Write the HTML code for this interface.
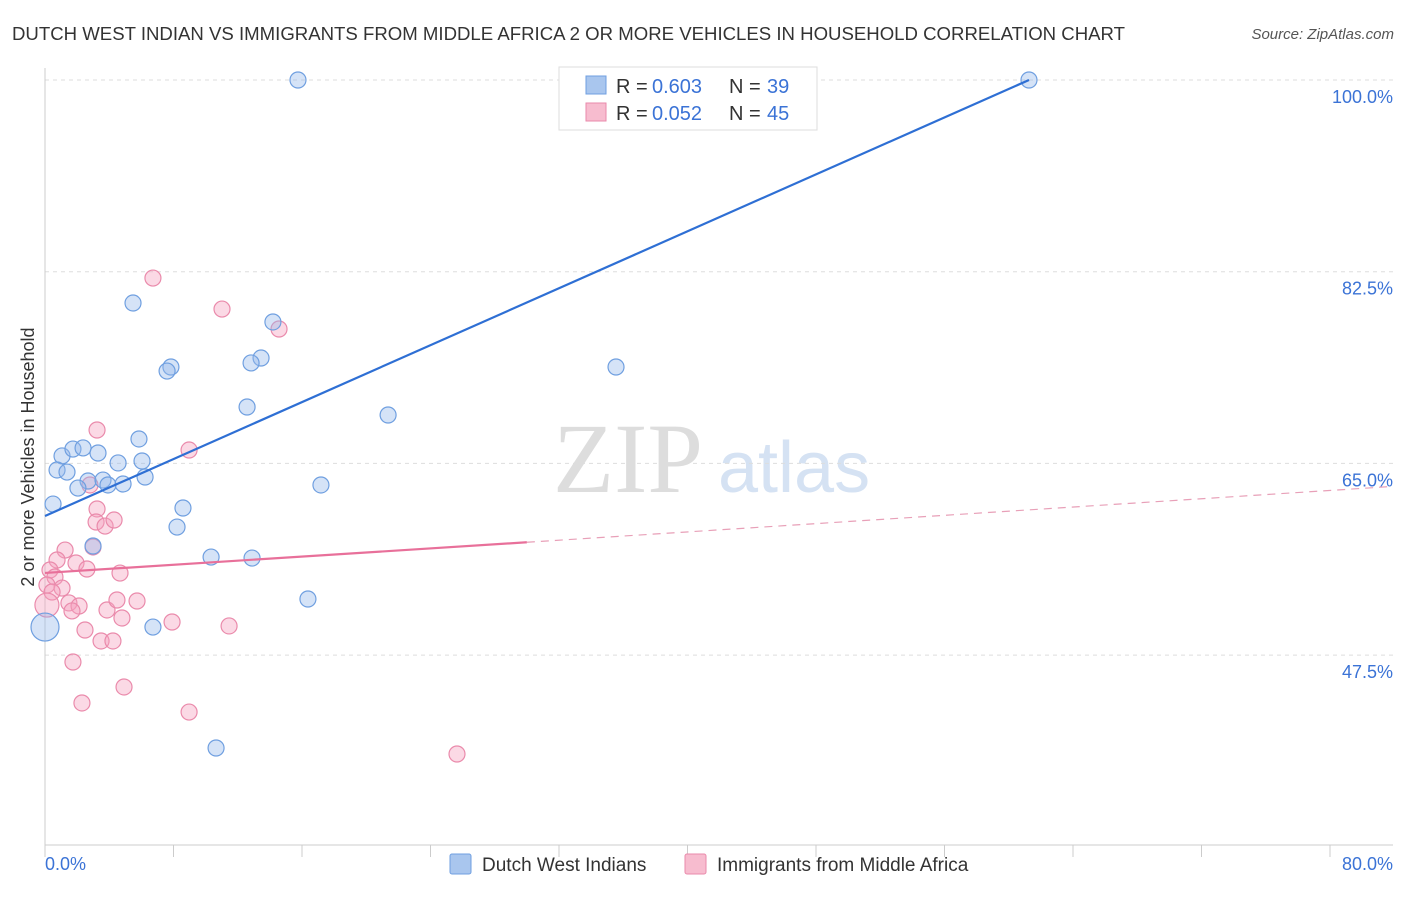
<!DOCTYPE html>
<html><head><meta charset="utf-8"><style>
body{margin:0;background:#fff;font-family:"Liberation Sans",sans-serif}
svg text{font-family:"Liberation Sans",sans-serif}
</style></head><body>
<svg id="chart" width="1406" height="892" xmlns="http://www.w3.org/2000/svg">
<text x="12" y="40" font-size="18" fill="#333" textLength="1113" lengthAdjust="spacingAndGlyphs">DUTCH WEST INDIAN VS IMMIGRANTS FROM MIDDLE AFRICA 2 OR MORE VEHICLES IN HOUSEHOLD CORRELATION CHART</text>
<text x="1394" y="39" font-size="15" fill="#555" font-style="italic" text-anchor="end">Source: ZipAtlas.com</text>
<text x="553" y="492" font-size="100" fill="#ddd" font-family="Liberation Serif" style="font-family:'Liberation Serif',serif">ZIP</text>
<text x="718" y="492" font-size="72" fill="#d5e2f3">atlas</text>
<g id="grid"></g>
<g id="marks"></g>
<text transform="translate(34,457) rotate(-90)" font-size="18" fill="#333" text-anchor="middle">2 or more Vehicles in Household</text>
<g>
<rect x="559" y="67" width="258" height="63" fill="#fff" stroke="#ddd"/>
<rect x="586" y="76" width="20" height="18" fill="#a9c6ee" stroke="#6f9fe0"/>
<rect x="586" y="103" width="20" height="18" fill="#f7bccf" stroke="#ea8aab"/>
<text x="616" y="93" font-size="20" fill="#333">R =</text>
<text x="652" y="93" font-size="20" fill="#3b73d6">0.603</text>
<text x="729" y="93" font-size="20" fill="#333">N =</text>
<text x="767" y="93" font-size="20" fill="#3b73d6">39</text>
<text x="616" y="120" font-size="20" fill="#333">R =</text>
<text x="652" y="120" font-size="20" fill="#3b73d6">0.052</text>
<text x="729" y="120" font-size="20" fill="#333">N =</text>
<text x="767" y="120" font-size="20" fill="#3b73d6">45</text>
</g>
<g>
<rect x="450" y="854" width="21" height="20" fill="#a9c6ee" stroke="#6f9fe0" rx="2"/>
<text x="482" y="871" font-size="19" fill="#333">Dutch West Indians</text>
<rect x="685" y="854" width="21" height="20" fill="#f7bccf" stroke="#ea8aab" rx="2"/>
<text x="717" y="871" font-size="19" fill="#333">Immigrants from Middle Africa</text>
</g>
</svg>
<script>
const yTicks=[100,82.5,65,47.5];
const yTickLabels=["100.0%","82.5%","65.0%","47.5%"];
const xTickLabels=["0.0%","80.0%"];
const blueX=[15.75,34.55,61.26,5.48,14.19,7.84,7.60,13.45,12.83,35.55,12.58,21.36,5.85,1.06,1.74,2.37,3.30,4.55,6.04,0.75,1.37,6.23,2.68,2.05,3.61,3.92,4.86,17.18,0.50,8.59,8.22,2.99,10.34,12.89,16.37,6.72,0,10.65];
const blueY=[100,100,100,79.64,77.91,73.8,73.43,74.62,74.17,73.8,70.15,69.42,67.23,65.68,66.31,66.41,65.95,65.04,65.22,64.40,64.21,63.76,63.39,62.75,63.48,63.03,63.12,63.03,61.29,60.93,59.19,57.46,56.45,56.36,52.62,50.06,50.06,39.02];
const blueR=[8,8,8,8,8,8,8,8,8,8,8,8,8,8,8,8,8,8,8,8,8,8,8,8,8,8,8,8,8,8,8,8,8,8,8,8,14,8];
const pinkX=[6.72,11.02,14.57,8.97,3.24,2.80,3.24,3.18,3.74,4.30,1.25,2.99,0.75,1.93,2.61,4.67,0.31,0.62,0.12,1.06,0.44,3.86,1.49,2.12,1.68,4.48,5.73,4.79,7.91,11.46,2.49,0.12,3.49,4.23,1.74,4.92,2.30,8.97,25.65];
const pinkY=[81.92,79.09,77.27,66.22,68.05,63.03,60.84,59.65,59.28,59.83,57.09,57.37,56.18,55.91,55.36,54.99,55.27,54.63,53.90,53.62,53.26,51.62,52.26,51.98,51.53,52.53,52.44,50.89,50.52,50.16,49.79,52.07,48.79,48.79,46.87,44.59,43.13,42.30,38.47];
const pinkR=[8,8,8,8,8,8,8,8,8,8,8,8,8,8,8,8,8,8,8,8,8,8,8,8,8,8,8,8,8,8,8,12,8,8,8,8,8,8,8];
const blueLine=[0,60.2,61.26,100];
const pinkLine=[0,55.0,30.0,57.8,83.9,62.9];
const X=v=>45+v*1285/80, Y=v=>80+(100-v)*191.7/17.5;
const NS="http://www.w3.org/2000/svg";
const grid=document.getElementById('grid'), marks=document.getElementById('marks');
function mk(p,tag,a){const e=document.createElementNS(NS,tag);for(const k in a)e.setAttribute(k,a[k]);p.appendChild(e);return e;}
yTicks.forEach((t,i)=>{
 const l=mk(grid,'line',{x1:45,x2:1393,y1:Y(t),y2:Y(t),stroke:'#ddd','stroke-dasharray':'4,4'});
 
 
 const tx=mk(grid,'text',{x:1393,y:Y(t)+23,'font-size':18,fill:'#3b73d6','text-anchor':'end'});tx.textContent=yTickLabels[i];
 
 
});
const ax=mk(grid,'line',{x1:45,x2:1393,y1:845,y2:845,stroke:'#ccc'});


const ay=mk(grid,'line',{x1:45,x2:45,y1:68,y2:845,stroke:'#ccc'});


for(let i=0;i<=10;i++){const t=mk(grid,'line',{x1:X(i*8),x2:X(i*8),y1:845,y2:857,stroke:'#ccc'});
 
 }
const xl0=mk(grid,'text',{x:45,y:870,'font-size':18,fill:'#3b73d6'});xl0.textContent=xTickLabels[0];


const xl1=mk(grid,'text',{x:1393,y:870,'font-size':18,fill:'#3b73d6','text-anchor':'end'});xl1.textContent=xTickLabels[1];


pinkX.forEach((v,i)=>{const c=mk(marks,'circle',{cx:X(v),cy:Y(pinkY[i]),r:pinkR[i],fill:'rgba(245,160,190,0.4)',stroke:'#ea8aab','stroke-width':1.2});
 
 });
blueX.forEach((v,i)=>{const c=mk(marks,'circle',{cx:X(v),cy:Y(blueY[i]),r:blueR[i],fill:'rgba(150,185,235,0.4)',stroke:'#6f9fe0','stroke-width':1.2});
 
 });
const bl=mk(marks,'line',{x1:X(blueLine[0]),y1:Y(blueLine[1]),x2:X(blueLine[2]),y2:Y(blueLine[3]),stroke:'#2e6fd4','stroke-width':2.2});


const pl=mk(marks,'line',{x1:X(pinkLine[0]),y1:Y(pinkLine[1]),x2:X(pinkLine[2]),y2:Y(pinkLine[3]),stroke:'#e8709a','stroke-width':2.2});


const pd=mk(marks,'line',{x1:X(pinkLine[2]),y1:Y(pinkLine[3]),x2:X(pinkLine[4]),y2:Y(pinkLine[5]),stroke:'#e8a0b8','stroke-width':1.2,'stroke-dasharray':'8,6'});


</script>
</body></html>
